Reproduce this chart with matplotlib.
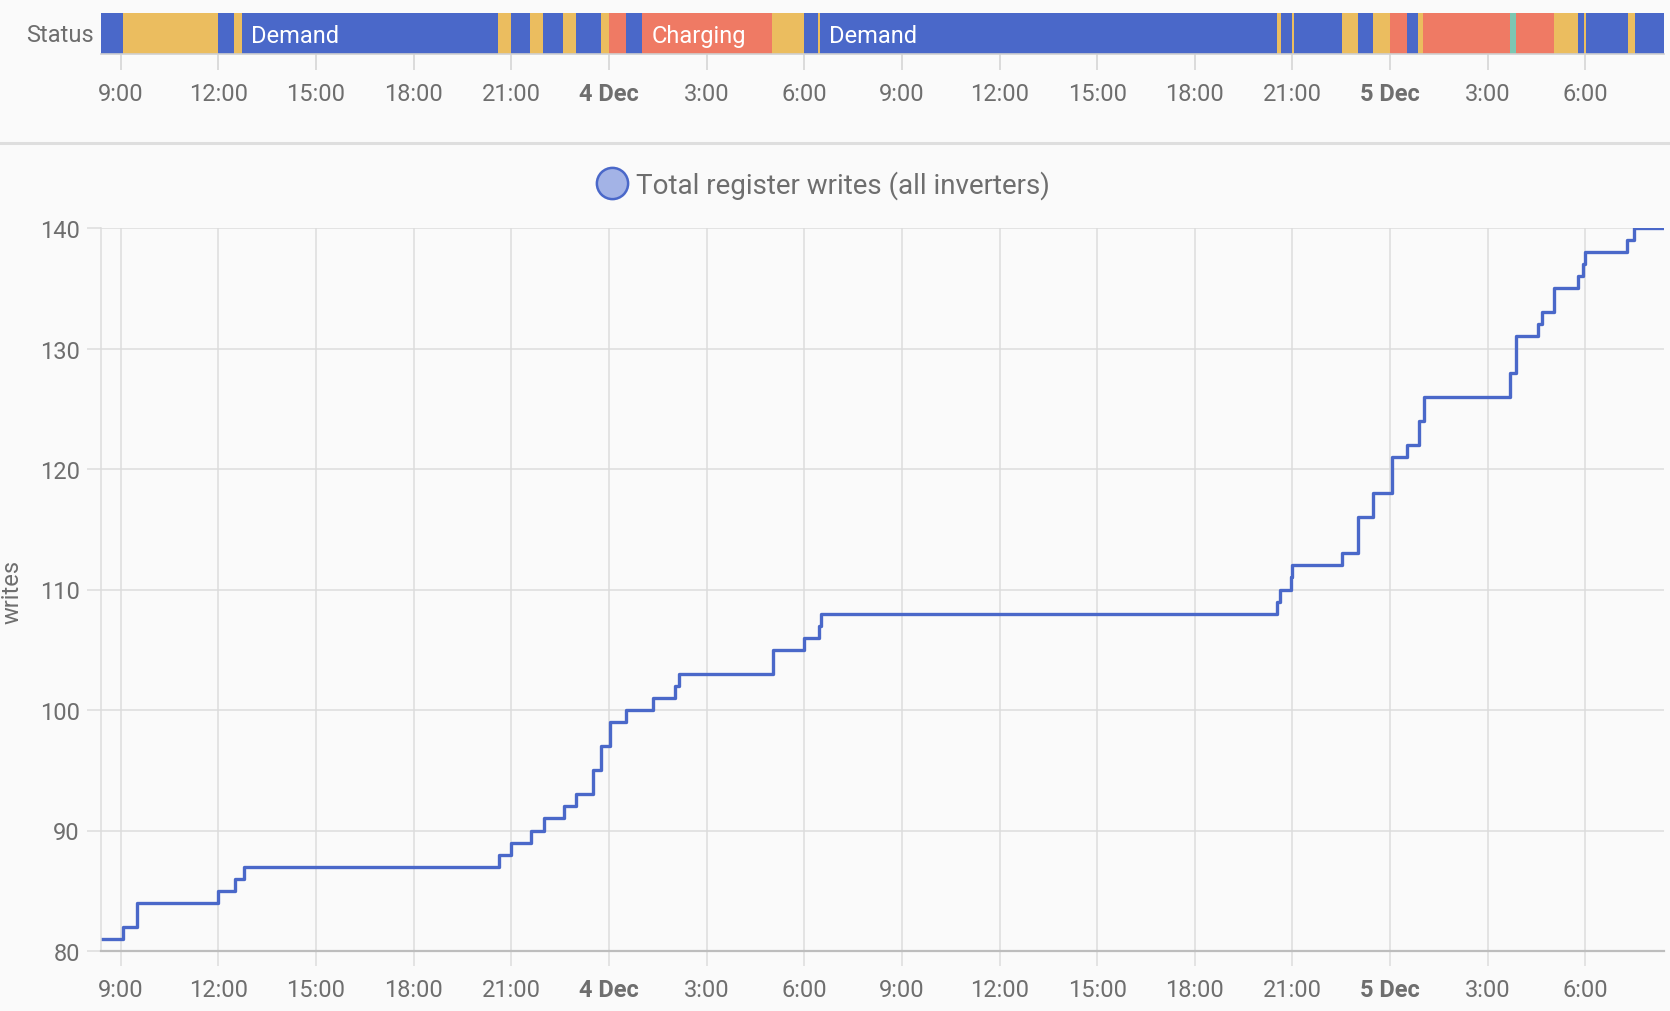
import pandas as pd
import matplotlib
matplotlib.use("Agg")
import matplotlib.pyplot as plt
import matplotlib.dates as mdates
from matplotlib.lines import Line2D

plt.rcParams['font.family'] = ['Roboto', 'DejaVu Sans']

# %% data
# cumulative register writes, value holds from its time until the next one
write_times = [
    "2024-12-03 08:23", "2024-12-03 09:05", "2024-12-03 09:29", "2024-12-03 12:00",
    "2024-12-03 12:30", "2024-12-03 12:47", "2024-12-03 20:37", "2024-12-03 21:00",
    "2024-12-03 21:37", "2024-12-03 22:00", "2024-12-03 22:37", "2024-12-03 23:00",
    "2024-12-03 23:31", "2024-12-03 23:46", "2024-12-04 00:01", "2024-12-04 00:31",
    "2024-12-04 01:22", "2024-12-04 02:01", "2024-12-04 02:10", "2024-12-04 05:02",
    "2024-12-04 06:00", "2024-12-04 06:28", "2024-12-04 06:30", "2024-12-04 20:31",
    "2024-12-04 20:37", "2024-12-04 20:58", "2024-12-04 21:00", "2024-12-04 22:31",
    "2024-12-04 23:01", "2024-12-04 23:28", "2024-12-05 00:03", "2024-12-05 00:32",
    "2024-12-05 00:54", "2024-12-05 01:03", "2024-12-05 03:42", "2024-12-05 03:52",
    "2024-12-05 04:32", "2024-12-05 04:41", "2024-12-05 05:03", "2024-12-05 05:47",
    "2024-12-05 05:56", "2024-12-05 06:00", "2024-12-05 07:17", "2024-12-05 07:29",
]
write_values = [
    81, 82, 84, 85, 86, 87, 88, 89, 90, 91, 92, 93, 95, 97, 99, 100,
    101, 102, 103, 105, 106, 107, 108, 109, 110, 111, 112, 113, 116, 118, 121, 122,
    124, 126, 128, 131, 132, 133, 135, 136, 137, 138, 139, 140,
]
start_time = "2024-12-03 08:23"
end_time = "2024-12-05 08:25"

# status timeline: each state lasts until the next start
status_times = [
    "2024-12-03 08:23", "2024-12-03 09:04", "2024-12-03 12:00", "2024-12-03 12:28",
    "2024-12-03 12:44", "2024-12-03 20:35", "2024-12-03 21:00", "2024-12-03 21:35",
    "2024-12-03 21:59", "2024-12-03 22:35", "2024-12-03 22:59", "2024-12-03 23:46",
    "2024-12-04 00:00", "2024-12-04 00:31", "2024-12-04 01:01", "2024-12-04 05:01",
    "2024-12-04 06:00", "2024-12-04 06:26", "2024-12-04 06:29", "2024-12-04 20:31",
    "2024-12-04 20:39", "2024-12-04 20:59", "2024-12-04 21:02", "2024-12-04 22:31",
    "2024-12-04 23:01", "2024-12-04 23:28", "2024-12-05 00:00", "2024-12-05 00:31",
    "2024-12-05 00:52", "2024-12-05 01:01", "2024-12-05 03:42", "2024-12-05 03:52",
    "2024-12-05 05:03", "2024-12-05 05:47", "2024-12-05 05:58", "2024-12-05 06:01",
    "2024-12-05 07:18", "2024-12-05 07:31",
]
status_states = [
    "Demand", "Idle", "Demand", "Idle", "Demand", "Idle", "Demand", "Idle",
    "Demand", "Idle", "Demand", "Idle", "Charging", "Demand", "Charging", "Idle",
    "Demand", "Idle", "Demand", "Idle", "Demand", "Idle", "Demand", "Idle",
    "Demand", "Idle", "Charging", "Demand", "Idle", "Charging", "Export", "Charging",
    "Idle", "Demand", "Idle", "Demand", "Idle", "Demand",
]
status_colors = {"Demand": "#4a68c9", "Idle": "#ebbd5f",
                 "Charging": "#ef7a64", "Export": "#7cc7b2"}

tick_times = pd.date_range("2024-12-03 09:00", periods=16, freq="3h")
tick_labels = ["9:00", "12:00", "15:00", "18:00", "21:00", "4 Dec", "3:00", "6:00",
               "9:00", "12:00", "15:00", "18:00", "21:00", "5 Dec", "3:00", "6:00"]

#%% layout (pixel based, figure is 1670x1012 at dpi 100)
W, H = 1670, 1012
bg = '#fafafa'
grid_c = '#dcdcdc'
text_c = '#6e6e6e'
line_c = '#4a68c9'
fs = 17

fig = plt.figure(figsize=(W / 100, H / 100), dpi=100, facecolor=bg)
ax_s = fig.add_axes([100.7 / W, 1 - 55 / H, (1664 - 100.7) / W, 41 / H])
ax = fig.add_axes([100.7 / W, 1 - 952 / H, (1664 - 100.7) / W, 723 / H])

x0 = mdates.date2num(pd.Timestamp(start_time))
x1 = mdates.date2num(pd.Timestamp(end_time))
ticks = mdates.date2num(tick_times)

#%% status bar
s_nums = list(mdates.date2num(pd.to_datetime(status_times))) + [x1]
for i, state in enumerate(status_states):
    left, right = s_nums[i], s_nums[i + 1]
    ax_s.barh(0.5, right - left, left=left, height=1.0,
              color=status_colors[state], linewidth=0)
    if (right - left) * 24 > 3.5:
        ax_s.text(left + 0.28 / 24, 0.45, state, color='white', fontsize=fs,
                  ha='left', va='center')

ax_s.set_xlim(x0, x1)
ax_s.set_ylim(0, 1)
ax_s.set_facecolor(bg)
ax_s.set_yticks([])
for side in ['top', 'left', 'right']:
    ax_s.spines[side].set_visible(False)
ax_s.spines['bottom'].set_color('#d0d0d0')
ax_s.spines['bottom'].set_linewidth(1.2)
ax_s.set_xticks(ticks, tick_labels)
ax_s.tick_params(axis='x', length=11.5, width=1.2, color='#d5d5d5', pad=8.5,
                 labelsize=fs, labelcolor=text_c)
fig.text(94 / W, 1 - 35 / H, "Status", ha='right', va='center',
         fontsize=fs, color=text_c)

#%% main chart
w_nums = list(mdates.date2num(pd.to_datetime(write_times))) + [x1]
ax.step(w_nums, write_values + [write_values[-1]], where='post',
        color=line_c, linewidth=2.4)

ax.set_xlim(x0, x1)
ax.set_ylim(80, 140)
ax.set_facecolor(bg)
ax.set_xticks(ticks, tick_labels)
ax.set_yticks([80, 90, 100, 110, 120, 130, 140])
ax.grid(True, color=grid_c, linewidth=1.1)
ax.set_axisbelow(True)
for side in ['top', 'right']:
    ax.spines[side].set_visible(False)
ax.spines['left'].set_color(grid_c)
ax.spines['left'].set_linewidth(1.1)
ax.spines['bottom'].set_color('#bdbdbd')
ax.spines['bottom'].set_linewidth(1.6)
ax.tick_params(axis='x', length=11, width=1.1, color=grid_c, pad=8.5,
               labelsize=fs, labelcolor=text_c)
ax.tick_params(axis='y', length=10, width=1.1, color=grid_c, pad=5,
               labelsize=fs, labelcolor=text_c)

for a in (ax_s, ax):
    for lbl in a.get_xticklabels():
        if 'Dec' in lbl.get_text():
            lbl.set_fontweight('bold')

fig.text(12 / W, 1 - 592 / H, "writes", rotation=90, ha='center', va='center',
         fontsize=fs, color=text_c)

# legend + separator
handle = Line2D([], [], marker='o', linestyle='', markersize=22.5,
                markerfacecolor='#a3b3e6', markeredgecolor=line_c, markeredgewidth=1.8)
fig.legend([handle], ["Total register writes (all inverters)"], loc='center',
           bbox_to_anchor=(824 / W, 1 - 186 / H), frameon=False, fontsize=20,
           labelcolor=text_c, handletextpad=0.35, handlelength=1.0)
fig.add_artist(Line2D([0, 1], [1 - 144 / H, 1 - 144 / H], color='#dedede',
                      linewidth=2.2, transform=fig.transFigure))

fig.savefig("out.png", dpi=100, facecolor=bg)
